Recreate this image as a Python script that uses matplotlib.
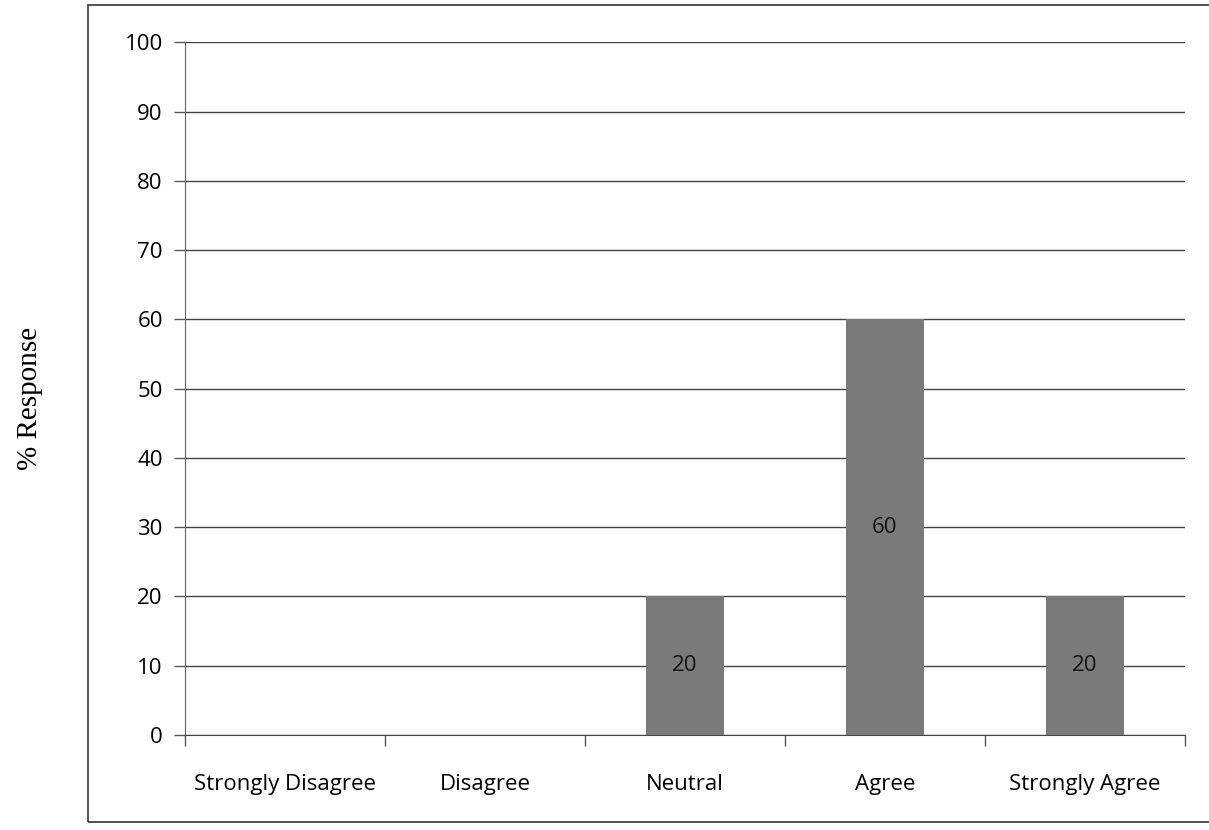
import numpy as np
import matplotlib.pyplot as plt
from matplotlib.patches import Rectangle

categories = ['Strongly Disagree', 'Disagree', 'Neutral', 'Agree', 'Strongly Agree']
responses = [0, 0, 20, 60, 20]
yticks = list(range(0, 101, 10))

plt.rcParams['font.family'] = ['Open Sans', 'DejaVu Sans']

fig = plt.figure(figsize=(12.09, 8.30), dpi=100)
ax = fig.add_axes([0.153, 0.1145, 0.827, 0.8345])

x = np.arange(len(categories))
bars = ax.bar(x, responses, width=0.39, color='#7a7a7a', zorder=3)
for b, v in zip(bars, responses):
    if v > 0:
        ax.text(b.get_x() + b.get_width() / 2, v / 2, str(v), ha='center', va='center',
                fontsize=16, color='#111111', zorder=4)

ax.set_xlim(-0.5, len(categories) - 0.5)
ax.set_ylim(0, 100)
ax.set_yticks(yticks)
ax.tick_params(axis='y', labelsize=16, length=8, width=1, color='#555555', pad=8)
ax.set_xticks(x)
ax.set_xticklabels(categories, fontsize=16)
ax.tick_params(axis='x', length=0, pad=28)
# category boundary ticks
ax.set_xticks(np.arange(len(categories) + 1) - 0.5, minor=True)
ax.tick_params(axis='x', which='minor', length=8, width=1, color='#555555')

ax.yaxis.grid(True, color='#444444', linewidth=1)
ax.set_axisbelow(True)
for s in ['top', 'right']:
    ax.spines[s].set_visible(False)
ax.spines['left'].set_color('#666666')
ax.spines['bottom'].set_color('#444444')

fig.text(0.025, 0.52, '% Response', rotation=90, ha='center', va='center',
         fontsize=21, family='Liberation Serif')

fig.patches.append(Rectangle((0.073, 0.01), 1.0, 0.984, transform=fig.transFigure,
                             fill=False, edgecolor='#333333', linewidth=1.2))

fig.savefig('out.png', dpi=100)
